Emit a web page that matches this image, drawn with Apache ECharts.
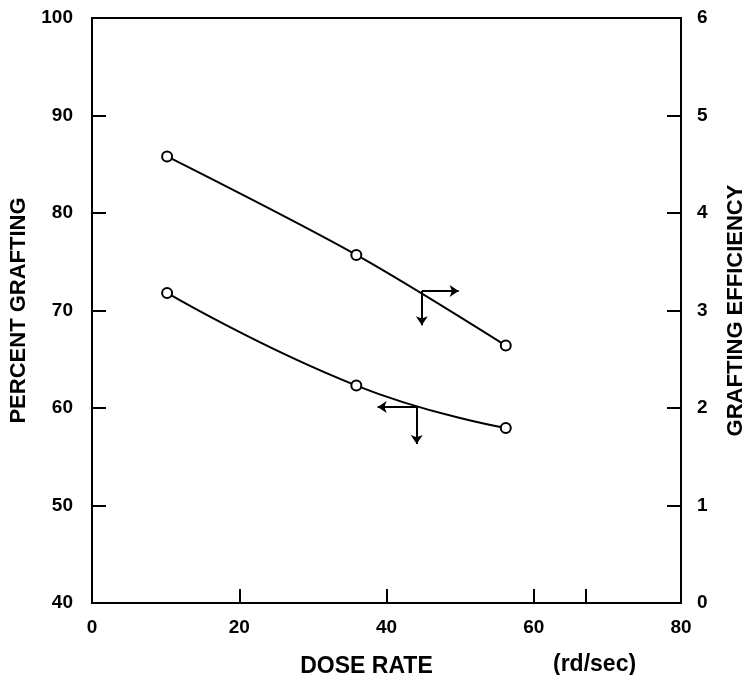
<!DOCTYPE html>
<html>
<head>
<meta charset="utf-8">
<script src="https://cdn.jsdelivr.net/npm/echarts@6/dist/echarts.min.js"></script>
<style>html,body{margin:0;padding:0;background:#fff}#c{width:745px;height:675px}</style>
</head>
<body>
<div id="c"></div>
<script>
// Data
const doseRate = [10.2, 35.9, 56.2];
const efficiency = [4.58, 3.57, 2.64];          // right axis (arrow points right)
const percentGrafting = [71.8, 62.3, 57.95];    // left axis (arrow points left)
const xTickLabels = [0, 20, 40, 60, 80];
const xTickMarks = [20, 40, 60, 67];
// Axis-indicator arrows: origin, horizontal end, vertical end
const effArrow = {origin: [44.8, 3.2], horizTo: 49.8, downTo: 2.85};
const pgArrow = {origin: [44.1, 60.1], horizTo: 38.8, downTo: 56.3};

const FONT = 'Liberation Sans';
const chart = echarts.init(document.getElementById('c'));

function arrowLines(a) {
  return [
    [{coord: a.origin}, {coord: [a.horizTo, a.origin[1]]}],
    [{coord: a.origin}, {coord: [a.origin[0], a.downTo]}]
  ];
}
const markStyle = {
  silent: true, symbol: ['none', 'arrow'], symbolSize: 9,
  label: {show: false},
  lineStyle: {color: '#000', width: 2, type: 'solid'},
  itemStyle: {color: '#000'},
  emphasis: {disabled: true}
};

chart.setOption({
  animation: false,
  backgroundColor: '#fff',
  grid: {left: 92, right: 64, top: 18, bottom: 72, outerBoundsMode: 'none', containLabel: false,
         show: true, borderColor: '#000', borderWidth: 2},
  xAxis: {
    type: 'value', min: 0, max: 80, interval: 20,
    axisLine: {lineStyle: {color: '#000', width: 2}},
    axisTick: {inside: true, length: 14, lineStyle: {color: '#000', width: 2}, customValues: xTickMarks},
    axisLabel: {color: '#000', fontFamily: FONT, fontWeight: 'bold', fontSize: 19, margin: 15, customValues: xTickLabels},
    splitLine: {show: false},
    name: 'DOSE RATE', nameLocation: 'middle', nameGap: 52,
    nameTextStyle: {color: '#000', fontFamily: FONT, fontWeight: 'bold', fontSize: 23, padding: [0, 40, 0, 0]}
  },
  yAxis: [
    {
      type: 'value', min: 40, max: 100, interval: 10, position: 'left',
      axisLine: {show: true, lineStyle: {color: '#000', width: 2}},
      axisTick: {show: true, inside: true, length: 14, lineStyle: {color: '#000', width: 2}},
      axisLabel: {color: '#000', fontFamily: FONT, fontWeight: 'bold', fontSize: 19, margin: 19},
      splitLine: {show: false},
      name: 'PERCENT GRAFTING', nameLocation: 'middle', nameGap: 60,
      nameTextStyle: {color: '#000', fontFamily: FONT, fontWeight: 'bold', fontSize: 22}
    },
    {
      type: 'value', min: 0, max: 6, interval: 1, position: 'right',
      axisLine: {show: true, lineStyle: {color: '#000', width: 2}},
      axisTick: {show: true, inside: true, length: 14, lineStyle: {color: '#000', width: 2}},
      axisLabel: {color: '#000', fontFamily: FONT, fontWeight: 'bold', fontSize: 19, margin: 16},
      splitLine: {show: false},
      name: 'GRAFTING EFFICIENCY', nameLocation: 'middle', nameGap: 44,
      nameTextStyle: {color: '#000', fontFamily: FONT, fontWeight: 'bold', fontSize: 22}
    }
  ],
  graphic: [{
    type: 'text', left: 553, top: 653,
    style: {text: '(rd/sec)', font: 'bold 23px "Liberation Sans"', fill: '#000'}
  }],
  series: [
    {
      type: 'line', yAxisIndex: 1, smooth: 0.3,
      data: doseRate.map((x, i) => [x, efficiency[i]]),
      symbol: 'circle', symbolSize: 10,
      itemStyle: {color: '#fff', borderColor: '#000', borderWidth: 2},
      lineStyle: {color: '#000', width: 2},
      markLine: Object.assign({data: arrowLines(effArrow)}, markStyle)
    },
    {
      type: 'line', yAxisIndex: 0, smooth: 0.5,
      data: doseRate.map((x, i) => [x, percentGrafting[i]]),
      symbol: 'circle', symbolSize: 10,
      itemStyle: {color: '#fff', borderColor: '#000', borderWidth: 2},
      lineStyle: {color: '#000', width: 2},
      markLine: Object.assign({data: arrowLines(pgArrow)}, markStyle)
    }
  ]
});
</script>
</body>
</html>
